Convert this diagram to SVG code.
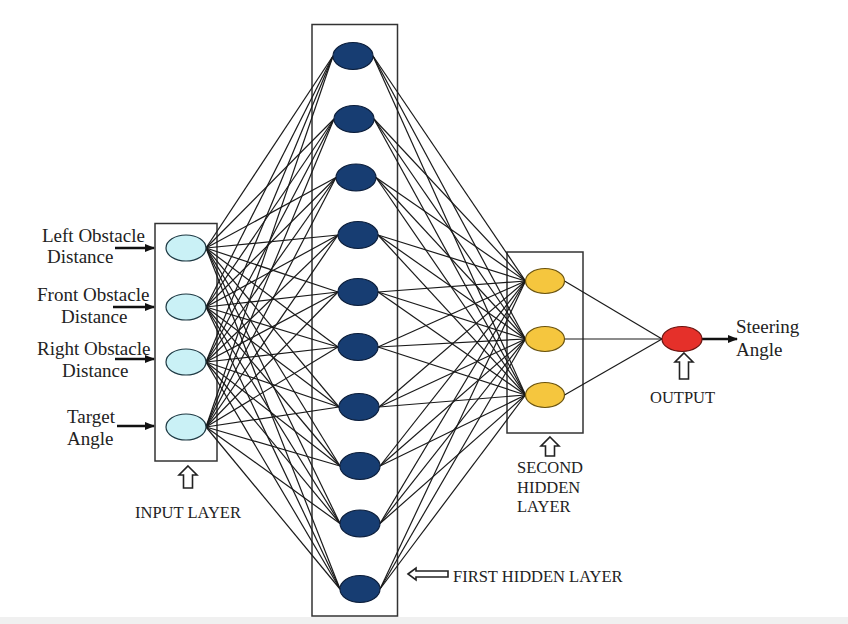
<svg xmlns="http://www.w3.org/2000/svg" width="848" height="624" viewBox="0 0 848 624">
<style>
text{font-family:"Liberation Serif","Times New Roman",serif;fill:#222}
.lbl{font-size:19px}
.cap{font-size:16.5px}
.box{fill:none;stroke:#333;stroke-width:1.5}
.c line{stroke:#1a1a1a;stroke-width:1.2}
.in{fill:#caf1f6;stroke:#1f3a44;stroke-width:1.2}
.h1{fill:#173d72;stroke:#0d1f3c;stroke-width:1.2}
.h2{fill:#f5c63e;stroke:#6b5410;stroke-width:1.2}
.out{fill:#e5302a;stroke:#6a1410;stroke-width:1.2}
.blk{fill:#fff;stroke:#222;stroke-width:1.6}
.arr{stroke:#111;stroke-width:2.6}
</style>
<defs>
<marker id="ah" markerUnits="userSpaceOnUse" markerWidth="10" markerHeight="8" refX="9" refY="4" orient="auto">
<path d="M0,0 L10,4 L0,8 Z" fill="#111"/>
</marker>
</defs>
<rect x="0" y="0" width="848" height="624" fill="#fff"/>
<rect x="0" y="617" width="848" height="7" fill="#f0f0f0"/>

<g id="boxes">
<rect class="box" x="155" y="223.5" width="62" height="237.5"/>
<rect class="box" x="312" y="24.5" width="85.5" height="591.5"/>
<rect class="box" x="507" y="252" width="76" height="181"/>
</g>

<g id="connectors" class="c">
<line x1="206" y1="248" x2="333" y2="56"/><line x1="206" y1="248" x2="334" y2="119"/><line x1="206" y1="248" x2="336" y2="177.5"/><line x1="206" y1="248" x2="338" y2="235"/><line x1="206" y1="248" x2="338" y2="292"/><line x1="206" y1="248" x2="338" y2="347"/><line x1="206" y1="248" x2="339" y2="407"/><line x1="206" y1="248" x2="340" y2="466"/><line x1="206" y1="248" x2="340" y2="523.5"/><line x1="206" y1="248" x2="340" y2="589"/>
<line x1="206" y1="307" x2="333" y2="56"/><line x1="206" y1="307" x2="334" y2="119"/><line x1="206" y1="307" x2="336" y2="177.5"/><line x1="206" y1="307" x2="338" y2="235"/><line x1="206" y1="307" x2="338" y2="292"/><line x1="206" y1="307" x2="338" y2="347"/><line x1="206" y1="307" x2="339" y2="407"/><line x1="206" y1="307" x2="340" y2="466"/><line x1="206" y1="307" x2="340" y2="523.5"/><line x1="206" y1="307" x2="340" y2="589"/>
<line x1="206" y1="362" x2="333" y2="56"/><line x1="206" y1="362" x2="334" y2="119"/><line x1="206" y1="362" x2="336" y2="177.5"/><line x1="206" y1="362" x2="338" y2="235"/><line x1="206" y1="362" x2="338" y2="292"/><line x1="206" y1="362" x2="338" y2="347"/><line x1="206" y1="362" x2="339" y2="407"/><line x1="206" y1="362" x2="340" y2="466"/><line x1="206" y1="362" x2="340" y2="523.5"/><line x1="206" y1="362" x2="340" y2="589"/>
<line x1="206" y1="427" x2="333" y2="56"/><line x1="206" y1="427" x2="334" y2="119"/><line x1="206" y1="427" x2="336" y2="177.5"/><line x1="206" y1="427" x2="338" y2="235"/><line x1="206" y1="427" x2="338" y2="292"/><line x1="206" y1="427" x2="338" y2="347"/><line x1="206" y1="427" x2="339" y2="407"/><line x1="206" y1="427" x2="340" y2="466"/><line x1="206" y1="427" x2="340" y2="523.5"/><line x1="206" y1="427" x2="340" y2="589"/>

<line x1="373" y1="56" x2="525.5" y2="281"/><line x1="373" y1="56" x2="525.5" y2="339"/><line x1="373" y1="56" x2="525.5" y2="395"/>
<line x1="374" y1="119" x2="525.5" y2="281"/><line x1="374" y1="119" x2="525.5" y2="339"/><line x1="374" y1="119" x2="525.5" y2="395"/>
<line x1="376" y1="177.5" x2="525.5" y2="281"/><line x1="376" y1="177.5" x2="525.5" y2="339"/><line x1="376" y1="177.5" x2="525.5" y2="395"/>
<line x1="378" y1="235" x2="525.5" y2="281"/><line x1="378" y1="235" x2="525.5" y2="339"/><line x1="378" y1="235" x2="525.5" y2="395"/>
<line x1="378" y1="292" x2="525.5" y2="281"/><line x1="378" y1="292" x2="525.5" y2="339"/><line x1="378" y1="292" x2="525.5" y2="395"/>
<line x1="378" y1="347" x2="525.5" y2="281"/><line x1="378" y1="347" x2="525.5" y2="339"/><line x1="378" y1="347" x2="525.5" y2="395"/>
<line x1="379" y1="407" x2="525.5" y2="281"/><line x1="379" y1="407" x2="525.5" y2="339"/><line x1="379" y1="407" x2="525.5" y2="395"/>
<line x1="380" y1="466" x2="525.5" y2="281"/><line x1="380" y1="466" x2="525.5" y2="339"/><line x1="380" y1="466" x2="525.5" y2="395"/>
<line x1="380" y1="523.5" x2="525.5" y2="281"/><line x1="380" y1="523.5" x2="525.5" y2="339"/><line x1="380" y1="523.5" x2="525.5" y2="395"/>
<line x1="380" y1="589" x2="525.5" y2="281"/><line x1="380" y1="589" x2="525.5" y2="339"/><line x1="380" y1="589" x2="525.5" y2="395"/>

<line x1="564.5" y1="281" x2="662" y2="339"/><line x1="564.5" y1="339" x2="662" y2="339"/><line x1="564.5" y1="395" x2="662" y2="339"/>
</g>

<g id="input-arrows">
<line class="arr" x1="115" y1="248" x2="154" y2="248" marker-end="url(#ah)"/>
<line class="arr" x1="113" y1="307" x2="154" y2="307" marker-end="url(#ah)"/>
<line class="arr" x1="115" y1="359" x2="154" y2="359" marker-end="url(#ah)"/>
<line class="arr" x1="117" y1="426" x2="154" y2="426" marker-end="url(#ah)"/>
</g>

<g id="input-nodes">
<ellipse id="in1" class="in" cx="186" cy="248" rx="20" ry="13"/>
<ellipse id="in2" class="in" cx="186" cy="307" rx="20" ry="13"/>
<ellipse id="in3" class="in" cx="186" cy="362" rx="20" ry="13"/>
<ellipse id="in4" class="in" cx="186" cy="427" rx="20" ry="13"/>
</g>

<g id="hidden1-nodes">
<ellipse id="h1_1" class="h1" cx="353" cy="56" rx="20" ry="13.5"/>
<ellipse id="h1_2" class="h1" cx="354" cy="119" rx="20" ry="13.5"/>
<ellipse id="h1_3" class="h1" cx="356" cy="177.5" rx="20" ry="13.5"/>
<ellipse id="h1_4" class="h1" cx="358" cy="235" rx="20" ry="13.5"/>
<ellipse id="h1_5" class="h1" cx="358" cy="292" rx="20" ry="13.5"/>
<ellipse id="h1_6" class="h1" cx="358" cy="347" rx="20" ry="13.5"/>
<ellipse id="h1_7" class="h1" cx="359" cy="407" rx="20" ry="13.5"/>
<ellipse id="h1_8" class="h1" cx="360" cy="466" rx="20" ry="13.5"/>
<ellipse id="h1_9" class="h1" cx="360" cy="523.5" rx="20" ry="13.5"/>
<ellipse id="h1_10" class="h1" cx="360" cy="589" rx="20" ry="13.5"/>
</g>

<g id="hidden2-nodes">
<ellipse id="h2_1" class="h2" cx="545" cy="281" rx="19.5" ry="12.5"/>
<ellipse id="h2_2" class="h2" cx="545" cy="339" rx="19.5" ry="12.5"/>
<ellipse id="h2_3" class="h2" cx="545" cy="395" rx="19.5" ry="12.5"/>
</g>

<g id="output-node">
<line class="arr" x1="702" y1="339" x2="737" y2="339" marker-end="url(#ah)"/>
<ellipse id="out" class="out" cx="682" cy="339" rx="20" ry="12.5"/>
</g>

<g id="input-labels">
<text class="lbl" x="42" y="242">Left Obstacle</text>
<text class="lbl" x="47" y="263">Distance</text>
<text class="lbl" x="37" y="301">Front Obstacle</text>
<text class="lbl" x="61" y="323">Distance</text>
<text class="lbl" x="37" y="354.5">Right Obstacle</text>
<text class="lbl" x="62" y="377">Distance</text>
<text class="lbl" x="67" y="423">Target</text>
<text class="lbl" x="67" y="445">Angle</text>
</g>

<g id="output-label">
<text class="lbl" x="736" y="333">Steering</text>
<text class="lbl" x="736" y="356">Angle</text>
</g>

<g id="layer-captions">
<path class="blk" d="M188,466 L197,475 L192.5,475 L192.5,488 L183.5,488 L183.5,475 L179,475 Z"/>
<text class="cap" x="135" y="518">INPUT LAYER</text>
<path class="blk" d="M408,574 L416,568 L416,571 L448,571 L448,577 L416,577 L416,580 Z"/>
<text class="cap" x="453" y="582">FIRST HIDDEN LAYER</text>
<path class="blk" d="M550,437 L559,446 L554.5,446 L554.5,456 L545.5,456 L545.5,446 L541,446 Z"/>
<text class="cap" x="517" y="473">SECOND</text>
<text class="cap" x="517" y="492.5">HIDDEN</text>
<text class="cap" x="517" y="512">LAYER</text>
<path class="blk" d="M684,353 L693,362 L688.5,362 L688.5,379 L679.5,379 L679.5,362 L675,362 Z"/>
<text class="cap" x="650" y="403">OUTPUT</text>
</g>
</svg>
